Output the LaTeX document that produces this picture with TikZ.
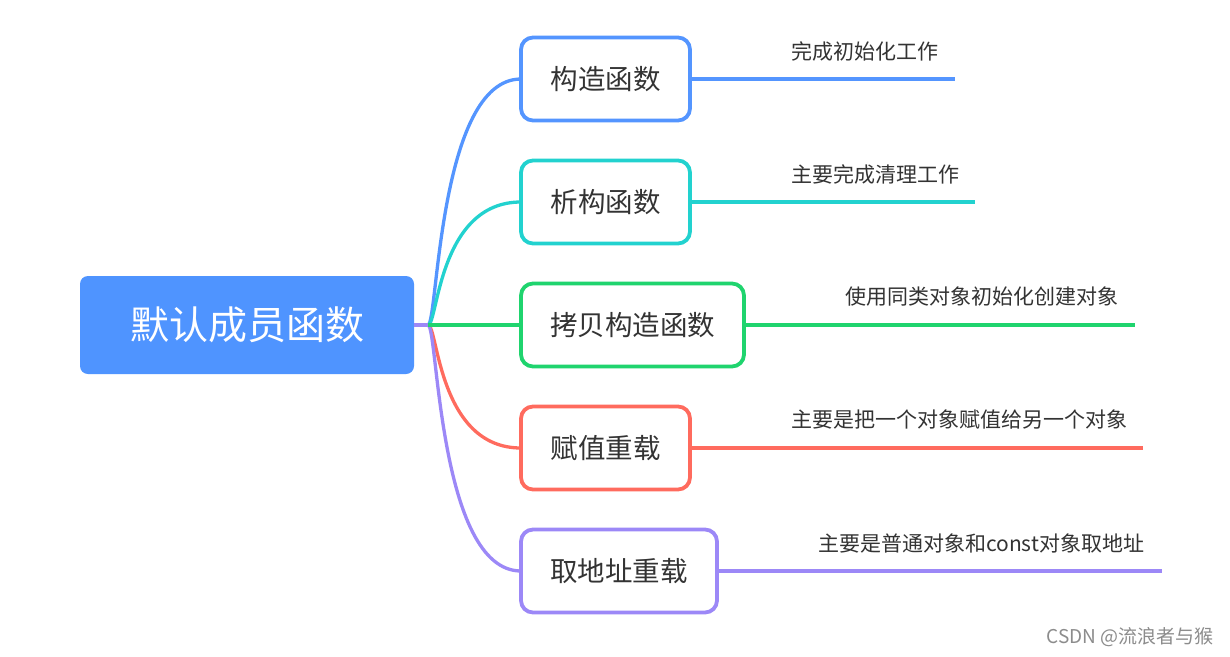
\documentclass[tikz,border=0pt]{standalone}
\usepackage{fontspec}
\setmainfont{Noto Sans CJK SC}
\begin{document}
\begin{tikzpicture}[x=1pt,y=-1pt]
\definecolor{cblue}{HTML}{5495FF}
\definecolor{croot}{HTML}{4F94FF}
\definecolor{ccyan}{HTML}{22D2CF}
\definecolor{cgreen}{HTML}{1FD46E}
\definecolor{cred}{HTML}{FF6B5E}
\definecolor{cpurple}{HTML}{9C88F7}
\definecolor{ctext}{HTML}{333333}
\tikzset{
  rootbox/.style={fill=croot, rounded corners=8pt, text=white, font=\fontsize{39}{42}\selectfont, minimum height=98pt, inner sep=0pt},
  subbox/.style={draw=#1, line width=3.8pt, fill=white, rounded corners=12pt, text=ctext, font=\fontsize{27.5}{31}\selectfont, minimum height=83pt, inner sep=0pt},
  branch/.style={draw=#1, line width=3.3pt},
  leaf/.style={text=ctext, font=\fontsize{21}{25}\selectfont, anchor=west, inner sep=0pt},
}
\useasboundingbox (0,0) rectangle (1230,656);
\fill[white] (0,0) rectangle (1230,656);

% branches from root
\coordinate (hub) at (428,325);
\node[rootbox, minimum width=334pt] (root) at (247,325) {默认成员函数};
\draw[branch=cblue] (414,325) -- (hub) .. controls (438,325) and (438,79) .. (521,79);
\draw[branch=ccyan] (hub) .. controls (438,325) and (438,202) .. (521,202);
\draw[branch=cred] (hub) .. controls (438,325) and (438,448) .. (521,448);
\draw[branch=cpurple] (hub) .. controls (438,325) and (438,571) .. (521,571);
\draw[branch=cgreen] (hub) -- (521,325);
\draw[branch=cpurple] (414,325) -- (hub);

% sub boxes
\node[subbox=cblue, minimum width=169pt] (b1) at (605.5,79) {构造函数};
\node[subbox=ccyan, minimum width=169pt] (b2) at (605.5,202) {析构函数};
\node[subbox=cgreen, minimum width=223pt] (b3) at (632.5,325) {拷贝构造函数};
\node[subbox=cred, minimum width=169pt] (b4) at (605.5,448) {赋值重载};
\node[subbox=cpurple, minimum width=196pt] (b5) at (619,571) {取地址重载};

% leaf lines
\coordinate (e1) at (955,79);
\coordinate (e2) at (975,202);
\coordinate (e3) at (1135,325);
\coordinate (e4) at (1143,448);
\coordinate (e5) at (1162,571);
\draw[branch=cblue] (b1.east) -- (e1);
\draw[branch=ccyan] (b2.east) -- (e2);
\draw[branch=cgreen] (b3.east) -- (e3);
\draw[branch=cred] (b4.east) -- (e4);
\draw[branch=cpurple] (b5.east) -- (e5);

% leaf labels
\node[leaf] (l1) at (791,51) {完成初始化工作};
\node[leaf] (l2) at (791,174) {主要完成清理工作};
\node[leaf] (l3) at (845,297) {使用同类对象初始化创建对象};
\node[leaf] (l4) at (791,420) {主要是把一个对象赋值给另一个对象};
\node[leaf] (l5) at (818,543) {主要是普通对象和const对象取地址};

% watermark
\node[text=black!45, font=\fontsize{19}{22}\selectfont, anchor=east, inner sep=0pt] (wm) at (1214,637) {CSDN @流浪者与猴};
\end{tikzpicture}
\end{document}
